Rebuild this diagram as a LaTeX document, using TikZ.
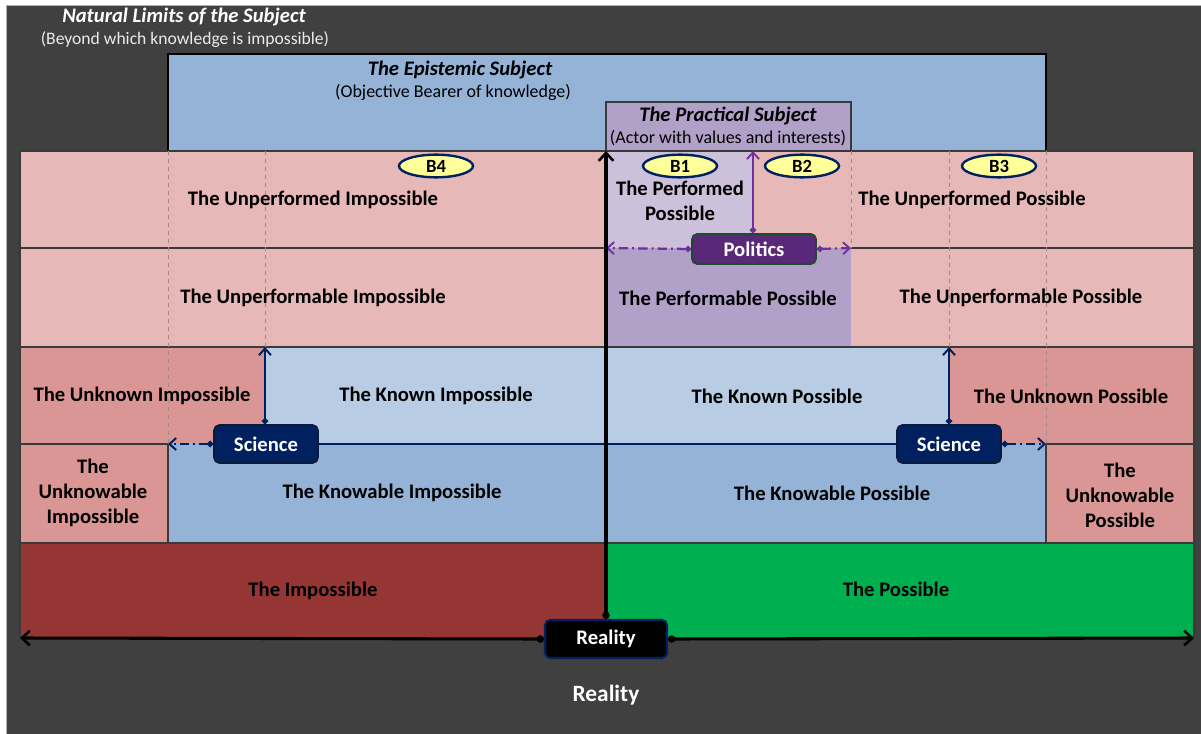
\documentclass[tikz,border=0pt]{standalone}
\usepackage{fontspec}
\setmainfont{Carlito}
\usetikzlibrary{arrows.meta,shapes.geometric}

\definecolor{bgdark}{HTML}{404040}
\definecolor{pinklight}{HTML}{E6B8B7}
\definecolor{pinkdark}{HTML}{DA9694}
\definecolor{blueknown}{HTML}{B8CCE4}
\definecolor{blueknow}{HTML}{95B3D7}
\definecolor{lavender}{HTML}{CCC0DA}
\definecolor{purplemid}{HTML}{B1A0C7}
\definecolor{impred}{HTML}{963634}
\definecolor{possgreen}{HTML}{00B050}
\definecolor{navy}{HTML}{002060}
\definecolor{navyedge}{HTML}{0A1A3A}
\definecolor{bubblefill}{HTML}{FFFF99}
\definecolor{politicsfill}{HTML}{5A2878}
\definecolor{politicsedge}{HTML}{1F4A30}
\definecolor{arrowpurple}{HTML}{7030A0}
\definecolor{gridgray}{HTML}{3A3A3A}
\definecolor{dashgray}{HTML}{A08A8A}

\tikzset{
  label/.style={text=black, font=\bfseries\fontsize{15.5}{18.75}\selectfont, align=center, inner sep=0pt},
  title/.style={text=black, font=\bfseries\itshape\fontsize{15.5}{18}\selectfont, inner sep=0pt},
  subtitle/.style={text=black, font=\fontsize{13.5}{16}\selectfont, inner sep=0pt},
  gridline/.style={draw=gridgray, line width=0.8pt},
  dashline/.style={draw=dashgray, line width=0.6pt, dash pattern=on 3pt off 3pt},
  bubble/.style={ellipse, draw=navy, line width=1.8pt, fill=bubblefill, inner sep=0pt,
    minimum width=55.5pt, minimum height=17pt, font=\bfseries\fontsize{14}{16}\selectfont},
  scibox/.style={rectangle, rounded corners=4pt, fill=navy, draw=navyedge, line width=1.2pt,
    minimum width=78pt, minimum height=28.5pt, inner sep=0pt, text=white,
    font=\bfseries\fontsize{15.5}{18}\selectfont},
  polbox/.style={rectangle, rounded corners=4pt, fill=politicsfill, draw=politicsedge, line width=1.4pt,
    minimum width=93pt, minimum height=22.5pt, inner sep=0pt, text=white,
    font=\bfseries\fontsize{15.5}{18}\selectfont},
  realbox/.style={rectangle, rounded corners=4pt, fill=black, draw=navy, line width=1.6pt,
    minimum width=91.5pt, minimum height=28.5pt, inner sep=0pt, text=white,
    font=\bfseries\fontsize{15.5}{18}\selectfont},
  sciarrow/.style={draw=navy, line width=1.9pt, {Circle[length=4.5pt]}-{Straight Barb[length=5pt,width=9pt,line width=1.5pt]}},
  scidash/.style={sciarrow, dash pattern=on 7pt off 3pt on 1.5pt off 3pt},
  polarrow/.style={draw=arrowpurple, line width=1.7pt, {Circle[length=4.5pt]}-{Straight Barb[length=5pt,width=9pt,line width=1.4pt]}},
  poldash/.style={polarrow, dash pattern=on 7pt off 3pt on 1.5pt off 3pt},
  realarrow/.style={draw=black, line width=2.3pt, {Circle[length=5.5pt]}-{Straight Barb[length=6pt,width=11pt,line width=1.9pt]}},
}

\begin{document}
\begin{tikzpicture}[x=0.75pt,y=-0.75pt]
\useasboundingbox (0,0) rectangle (1201,734);

% page and dark backdrop
\fill[white] (0,0) rectangle (1201,734);
\fill[bgdark] (6,5) rectangle (1201,734);
\draw[gray!60, line width=0.6pt] (6,734) -- (6,5) -- (1201,5);

% natural limits caption
\node[text=white, font=\bfseries\itshape\fontsize{15.5}{17}\selectfont, inner sep=0pt] (limits) at (184,17) {Natural Limits of the Subject};
\node[text=white!92!black, font=\fontsize{13.2}{15}\selectfont, inner sep=0pt] (limitsnote) at (185,40) {(Beyond which knowledge is impossible)};

% epistemic and practical subject boxes
\draw[fill=blueknow, draw=black, line width=0.8pt] (168,54) rectangle (1046,151);
\draw[fill=purplemid, draw=gridgray, line width=0.8pt] (606,102) rectangle (851,151);
\node[title] (epis) at (460,70) {The Epistemic Subject};
\node[subtitle] (episnote) at (453,92) {(Objective Bearer of knowledge)};
\node[title] (pract) at (728,116) {The Practical Subject};
\node[subtitle] (practnote) at (728,138) {(Actor with values and interests)};

% row 1 and 2: performance
\fill[pinklight] (20,151) rectangle (1194,347);
\fill[lavender] (606,151) rectangle (753,248);
\fill[purplemid] (606,248) rectangle (851,347);
% row 3: known / unknown
\fill[pinkdark] (20,347) rectangle (265,444);
\fill[blueknown] (265,347) rectangle (949,444);
\fill[pinkdark] (949,347) rectangle (1194,444);
% row 4: knowable / unknowable
\fill[pinkdark] (20,444) rectangle (168,543);
\fill[blueknow] (168,444) rectangle (1046,543);
\fill[pinkdark] (1046,444) rectangle (1194,543);
% row 5: reality
\fill[impred] (20,543) rectangle (606,638);
\fill[possgreen] (606,543) rectangle (1194,638);

% cell borders
\draw[gridline] (20,638) -- (20,151) -- (1194,151) -- (1194,638);
\draw[gridline] (20,248) -- (606,248) (851,248) -- (1194,248);
\draw[gridline] (20,347) -- (1194,347);
\draw[gridline] (20,444) -- (168,444) (1046,444) -- (1194,444);
\draw[gridline] (20,543) -- (1194,543);
\draw[gridline] (168,444) -- (168,543) (1046,444) -- (1046,543);

% dashed guides continuing the subject boundaries
\draw[dashline] (168,151) -- (168,444);
\draw[dashline] (265,151) -- (265,347);
\draw[dashline] (949,151) -- (949,347);
\draw[dashline] (1046,151) -- (1046,444);
\draw[dashline] (851,151) -- (851,248);

% cell labels
\node[label] (unperfImp) at (313,200) {The Unperformed Impossible};
\node[label] (perfPos) at (680,201) {The Performed\\Possible};
\node[label] (unperfPos) at (972,200) {The Unperformed Possible};
\node[label] (unperfableImp) at (313,298) {The Unperformable Impossible};
\node[label] (perfablePos) at (728,298) {The Performable Possible};
\node[label] (unperfablePos) at (1021,298) {The Unperformable Possible};
\node[label] (unknownImp) at (142,396) {The Unknown Impossible};
\node[label] (knownImp) at (436,396) {The Known Impossible};
\node[label] (knownPos) at (777,396) {The Known Possible};
\node[label] (unknownPos) at (1071,396) {The Unknown Possible};
\node[label] (unknowableImp) at (93,493) {The\\Unknowable\\Impossible};
\node[label] (knowableImp) at (392,493) {The Knowable Impossible};
\node[label] (knowablePos) at (832,493) {The Knowable Possible};
\node[label] (unknowablePos) at (1120,495) {The\\Unknowable\\Possible};
\node[label] (impossible) at (313,591) {The Impossible};
\node[label] (possible) at (896,589) {The Possible};

% boundary markers
\node[bubble] (b4) at (436,166) {B4};
\node[bubble] (b1) at (680,166) {B1};
\node[bubble] (b2) at (802,166) {B2};
\node[bubble] (b3) at (999,166) {B3};

% anchors for free connector ends
\coordinate (realTop) at (606,151);
\coordinate (realLeft) at (20,638);
\coordinate (realRight) at (1194,638);
\coordinate (sciUpL) at (265,347);
\coordinate (sciUpR) at (949,347);
\coordinate (sciEdgeL) at (168,444);
\coordinate (sciEdgeR) at (1046,444);
\coordinate (polUp) at (753,151);
\coordinate (polEdgeL) at (606,248);
\coordinate (polEdgeR) at (851,248);

% science
\node[scibox] (sciL) at (266,444) {Science};
\node[scibox] (sciR) at (949,444) {Science};
\draw[draw=navy, line width=1.9pt] (sciL.east) -- (sciR.west);
\draw[sciarrow] (sciL.north -| sciUpL) -- (sciUpL);
\draw[sciarrow] (sciR.north -| sciUpR) -- (sciUpR);
\draw[scidash] (sciL.west) -- (sciEdgeL);
\draw[scidash] (sciR.east) -- (sciEdgeR);

% politics
\node[polbox] (pol) at (754,249) {Politics};
\draw[polarrow] (pol.north -| polUp) -- (polUp);
\draw[poldash] (pol.west) -- (polEdgeL);
\draw[poldash] (pol.east) -- (polEdgeR);

% reality
\node[realbox] (real) at (606,639) {Reality};
\draw[realarrow] (real.north) -- (realTop);
\draw[realarrow] (real.west) -- (realLeft);
\draw[realarrow] (real.east) -- (realRight);
\node[text=white, font=\bfseries\fontsize{17.5}{20}\selectfont, inner sep=0pt] (realityCaption) at (606,695) {Reality};

\end{tikzpicture}
\end{document}
